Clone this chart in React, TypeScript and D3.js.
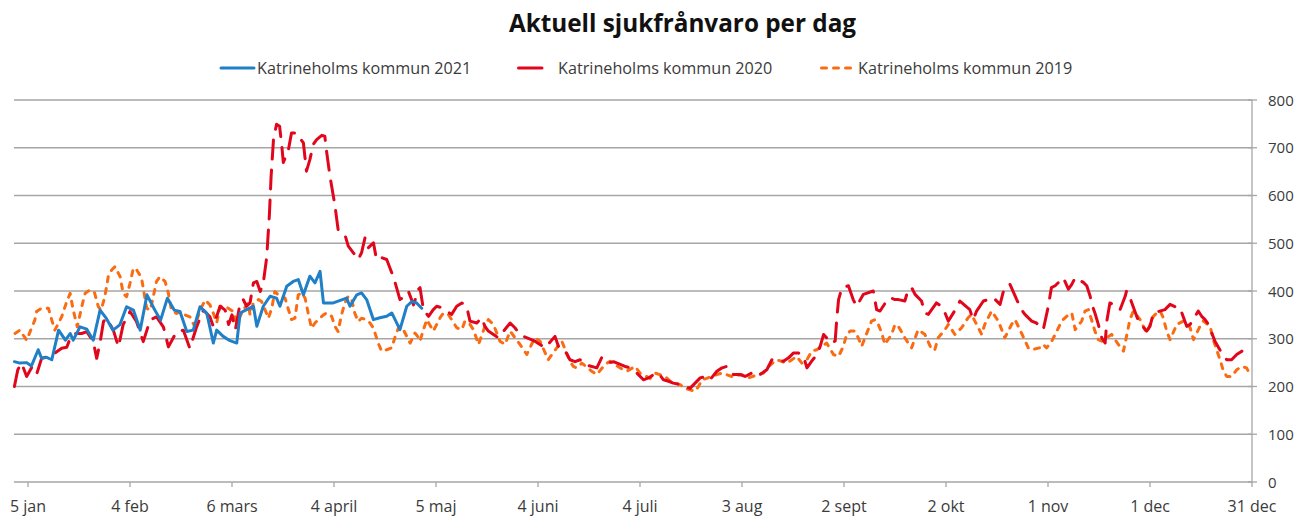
import React from 'react';
import * as d3 from 'd3';

const TITLE = 'Aktuell sjukfrånvaro per dag';
const seriesNames = ['Katrineholms kommun 2021', 'Katrineholms kommun 2020', 'Katrineholms kommun 2019'];
const xTickDays = [4, 34, 64, 94, 124, 154, 184, 214, 244, 274, 304, 334, 364];
const xTickLabels = ['5 jan', '4 feb', '6 mars', '4 april', '5 maj', '4 juni', '4 juli', '3 aug', '2 sept', '2 okt', '1 nov', '1 dec', '31 dec'];
const yTicks = [0, 100, 200, 300, 400, 500, 600, 700, 800];

// [day of year, value]
const data2021: [number, number][] = [
  [0,252],[1.6,249],[3.6,250],[5,243],[7,277],[8,259],[9.5,261],[11,256],[13,318],[15,297],[16.4,311],[17.3,297],[19.3,325],[21.3,320],[23.2,297],[25.2,360],[27,343],[29,318],[31,329],[33,367],[35,360],[37,318],[39,392],[41,364],[43,339],[45,385],[47,360],[48.7,357],[50.7,315],[52.6,318],[54.6,367],[56.6,353],[58.5,291],[59.5,318],[61.4,305],[63.4,296],[65.4,291],[66.4,354],[68.3,361],[70.3,368],[71.3,326],[73.2,368],[75.2,389],[77.1,385],[78.1,368],[80.1,410],[82,420],[83.5,424],[85,392],[86.9,431],[88.4,417],[89.9,441],[90.9,375],[93.8,375],[97.7,385],[98.7,368],[100.7,392],[102.1,396],[103.6,382],[105.6,340],[107.5,344],[109.5,347],[111,354],[113.4,319],[115.4,368],[116.9,378],[118.3,375],[119.8,364]
];

const data2020: [number, number][] = [
  [0,200],[1,235],[2.1,249],[3.6,221],[5.1,240],[6.5,225],[8,259],[9.5,262],[11.5,268],[13.9,280],[15.4,282],[16.4,301],[17.8,311],[19.8,311],[21.3,315],[23.2,294],[24.2,259],[25.2,292],[26.2,336],[27.1,343],[29.1,318],[30.6,283],[32,330],[34,357],[35.9,336],[37.9,294],[39.9,339],[41.8,346],[43.8,325],[45.3,283],[47.7,315],[49.7,318],[51.6,280],[53.6,325],[55.6,360],[57.5,346],[58.5,326],[60.5,368],[62,360],[63,330],[64,350],[65,319],[66.4,375],[67.3,382],[68.3,368],[69.3,375],[70.3,417],[71.3,420],[72.3,399],[73.2,417],[74.2,470],[75,560],[75.5,640],[76.2,717],[77.1,749],[78,745],[78.6,707],[79.1,669],[80.6,696],[81.5,731],[83,731],[84,720],[85,710],[85.9,651],[86.9,675],[87.9,707],[88.9,717],[90.4,726],[91.3,724],[91.8,693],[92.8,641],[94.3,578],[95.2,529],[96.2,525],[97.2,518],[98.2,494],[99.7,480],[101.1,466],[102.1,480],[103.1,511],[104,490],[105.6,501],[106.5,466],[108,470],[109.5,466],[111,438],[112,417],[113.4,382],[114.9,389],[115.9,399],[117.4,371],[118.8,403],[119.3,407],[120.3,361],[121.8,347],[123.2,361],[124.2,368],[125.7,365],[127.1,358],[128.6,351],[130.1,368],[131.6,375],[133,368],[134,337],[136,333],[137.4,344],[138.4,326],[139.4,316],[140.9,309],[142.3,302],[145.8,333],[147.2,323],[148.7,309],[149.7,305],[153.1,295],[156.1,281],[159,305],[160,284],[161.5,281],[163.4,256],[164.9,252],[166.4,256],[167.8,246],[171.3,239],[172.7,260],[174.2,249],[176.2,252],[179.6,242],[181.1,239],[183.1,228],[185,214],[186.5,218],[188,225],[189.4,228],[190.9,214],[192.4,211],[193.8,207],[195.8,204],[197.3,200],[198.7,196],[201.7,218],[203.2,221],[204.6,214],[206.6,232],[208.1,239],[209.5,242],[210.5,232],[211.5,225],[213.5,225],[214.9,221],[217.9,232],[219.3,225],[221.3,235],[222.8,256],[224.2,256],[226.2,253],[227.7,260],[229.1,270],[230.6,270],[232.1,263],[233.1,239],[234.5,253],[236,267],[237,284],[238,309],[238.9,302],[239.9,291],[241.4,295],[241.9,344],[242.4,382],[243.4,407],[245.3,411],[246.7,382],[247.7,368],[249.7,393],[252.6,400],[253.6,361],[254.6,358],[256.5,379],[257.5,386],[259,382],[260,382],[261.9,379],[262.9,404],[263.9,407],[264.9,393],[266.8,379],[267.8,354],[268.8,351],[271.2,375],[272.7,368],[273.7,354],[274.7,337],[277.1,365],[278.1,379],[281,361],[282,340],[283,358],[285,379],[286.4,382],[287.9,386],[289.9,372],[290.8,397],[291.8,411],[292.8,414],[294.8,382],[296.2,361],[297.2,351],[299.2,337],[300.6,333],[301.6,326],[302.6,319],[304.1,368],[305,407],[306.1,411],[307.1,418],[308.5,428],[310,404],[311,414],[312,428],[314.4,418],[315.4,411],[316.4,389],[316.9,372],[317.8,354],[318.8,330],[319.8,302],[320.8,291],[321.3,337],[322.2,375],[324.2,368],[325.2,361],[326.7,389],[327.1,400],[328.1,386],[330.6,337],[333,316],[334,326],[335,354],[338.4,361],[339.9,372],[341.9,365],[342.8,365],[344.8,326],[345.8,330],[348.2,358],[349.2,347],[350.2,340],[351.2,330],[353.1,295],[355.1,270],[356.6,256],[358,256],[359.5,267],[361,274],[362.4,263],[363.2,258]
];

const data2019: [number, number][] = [
  [0.2,311],[1.6,318],[3.6,297],[6,339],[6.5,357],[8,364],[10,364],[11,339],[11.9,318],[13.9,346],[15.4,378],[16.4,395],[17.3,360],[18.5,325],[19.8,367],[20.8,395],[22.2,402],[23.5,398],[24.7,367],[25.5,360],[26.6,388],[27.6,430],[28.6,444],[29.6,451],[31.1,430],[32,395],[33,388],[34,416],[35,448],[36,444],[37.4,427],[38.9,364],[40,360],[41.8,420],[42.8,430],[44.3,420],[45.3,395],[46.2,360],[47.7,353],[49,357],[50.2,350],[51.6,346],[53.1,325],[54.6,360],[56.1,381],[57.5,371],[58.5,354],[59.5,333],[60.5,368],[61.9,368],[62.9,364],[64.4,357],[65.4,333],[66.4,347],[67.3,361],[68.8,375],[69.3,350],[70.3,375],[71.8,382],[72.7,378],[73.7,361],[74.7,343],[75.7,364],[76.6,399],[77.6,392],[78.6,389],[79.6,385],[80.6,361],[81.5,340],[82.5,343],[83.5,392],[84.5,396],[85.5,385],[86.4,354],[87.4,322],[88.4,333],[89.4,340],[90.9,350],[91.8,354],[93.3,347],[94.3,326],[95.2,315],[96.2,350],[97.2,375],[98.2,389],[99.2,382],[100.1,354],[101.1,336],[102.1,343],[103.6,340],[104.6,333],[105.6,322],[107,291],[108,274],[109.5,277],[111,281],[112,305],[112.9,322],[113.9,326],[115.4,305],[116.4,291],[117.8,312],[118.6,305],[119.3,295],[120.3,319],[121.3,340],[123.2,316],[125.2,344],[126.2,354],[127.6,351],[130.1,323],[131.6,319],[132.5,337],[134,330],[135,319],[136.5,288],[138.4,326],[139.4,340],[140.9,330],[142.8,295],[144.3,288],[145.8,316],[148.7,288],[150.7,267],[152.1,288],[153.1,302],[154.6,295],[157,256],[159.5,281],[161,295],[163.4,253],[164.4,242],[165.4,239],[166.9,249],[169.8,232],[171.3,225],[173.7,246],[175.2,253],[178.1,239],[180.1,232],[182.6,242],[184,228],[187,217],[188.5,228],[191.4,221],[192.9,211],[195.8,204],[197.3,196],[198.7,193],[200.2,190],[201.2,200],[202.2,214],[203.6,217],[206.6,225],[208.1,228],[211,221],[214,225],[215.4,217],[218.8,225],[220.3,228],[221.8,242],[224.2,256],[227.2,249],[230.1,263],[231.6,249],[233.1,256],[234.5,274],[236,277],[238.9,291],[240.9,267],[242.4,263],[243.8,284],[244.8,309],[245.8,316],[247.2,316],[248.2,302],[249.2,284],[251.1,319],[252.1,337],[253.1,340],[254.1,330],[255.1,312],[256,288],[258,309],[259,330],[260,326],[261.9,302],[262.9,291],[263.9,281],[265.8,319],[267.8,309],[269.8,277],[270.7,277],[271.7,302],[273.7,319],[274.7,330],[276.6,309],[278.6,323],[280.5,344],[281.5,351],[282.5,337],[284.5,309],[285.4,330],[287.4,358],[289.4,337],[291.3,302],[293.3,330],[294.3,340],[296.2,312],[298.2,281],[299.2,277],[301.6,281],[302.6,288],[303.6,281],[305.1,295],[306.6,316],[308,337],[309.5,347],[311,354],[312,319],[313.9,337],[314.9,358],[315.9,361],[317.8,316],[318.8,298],[319.8,295],[322.7,309],[324.7,288],[326.2,274],[328.1,340],[329.1,358],[331.1,340],[333,312],[335,347],[336,354],[337,358],[337.9,344],[338.9,316],[339.9,298],[341.9,330],[343.8,337],[344.8,333],[345.8,323],[346.8,298],[348.7,326],[349.7,337],[351.7,326],[352.6,298],[353.6,277],[354.6,256],[355.6,232],[356.6,221],[358,221],[359.5,235],[361,242],[362.4,239],[363.4,225]
];

const COLORS = ['#1f7fc7', '#e1061c', '#fb6b12'];
const FONT = '"Open Sans", "Noto Sans", sans-serif';

export default function App() {
  const x = d3.scaleLinear().domain([0, 364]).range([14.4, 1252]);
  const y = d3.scaleLinear().domain([0, 800]).range([482, 100]);
  const line = d3.line<[number, number]>().x(d => x(d[0])).y(d => y(d[1])).curve(d3.curveLinear);
  const gridColor = '#a6a6a6';
  const textColor = '#3b3b3b';

  return (
    <svg width={1299} height={516} style={{ position: 'absolute', left: 0, top: 0, background: '#fff' }} fontFamily={FONT}>
      <rect x={0} y={0} width={1299} height={516} fill="#fff" />
      <text x={682.5} y={32} textAnchor="middle" fontSize={24.3} fontWeight={700} fill="#111">{TITLE}</text>

      {/* legend */}
      <g fontSize={16.2} fill={textColor}>
        <line x1={221} x2={254} y1={68} y2={68} stroke={COLORS[0]} strokeWidth={3} strokeLinecap="round" />
        <text x={257} y={73.8}>{seriesNames[0]}</text>
        <line x1={518.5} x2={542} y1={68} y2={68} stroke={COLORS[1]} strokeWidth={3} strokeLinecap="round" />
        <text x={558} y={73.8}>{seriesNames[1]}</text>
        <line x1={821.5} x2={852} y1={68} y2={68} stroke={COLORS[2]} strokeWidth={3} strokeLinecap="round" strokeDasharray="5,7" />
        <text x={858} y={73.8}>{seriesNames[2]}</text>
      </g>

      {/* gridlines */}
      {yTicks.map(t => (
        <line key={'g' + t} x1={14} x2={1252} y1={y(t)} y2={y(t)} stroke={gridColor} strokeWidth={1.3} />
      ))}
      {/* right axis */}
      <line x1={1252} x2={1252} y1={y(800)} y2={y(0)} stroke={gridColor} strokeWidth={1.3} />
      {yTicks.map(t => (
        <g key={'yt' + t}>
          <line x1={1248} x2={1257} y1={y(t)} y2={y(t)} stroke={gridColor} strokeWidth={1.3} />
          <text x={1268} y={y(t) + 5.5} fontSize={15} fill={textColor}>{t}</text>
        </g>
      ))}
      {/* bottom ticks */}
      {xTickDays.map((d, i) => (
        <g key={'xt' + i}>
          <line x1={x(d)} x2={x(d)} y1={482} y2={487} stroke={gridColor} strokeWidth={1.3} />
          <text x={x(d)} y={512} textAnchor="middle" fontSize={16} fill={textColor}>{xTickLabels[i]}</text>
        </g>
      ))}

      {/* series */}
      <path d={line(data2019) || ''} fill="none" stroke={COLORS[2]} strokeWidth={3} strokeLinecap="round" strokeLinejoin="round" strokeDasharray="5,7" />
      <path d={line(data2020) || ''} fill="none" stroke={COLORS[1]} strokeWidth={3} strokeLinecap="round" strokeLinejoin="round" strokeDasharray="19,11" />
      <path d={line(data2021) || ''} fill="none" stroke={COLORS[0]} strokeWidth={3} strokeLinecap="round" strokeLinejoin="round" />
    </svg>
  );
}
